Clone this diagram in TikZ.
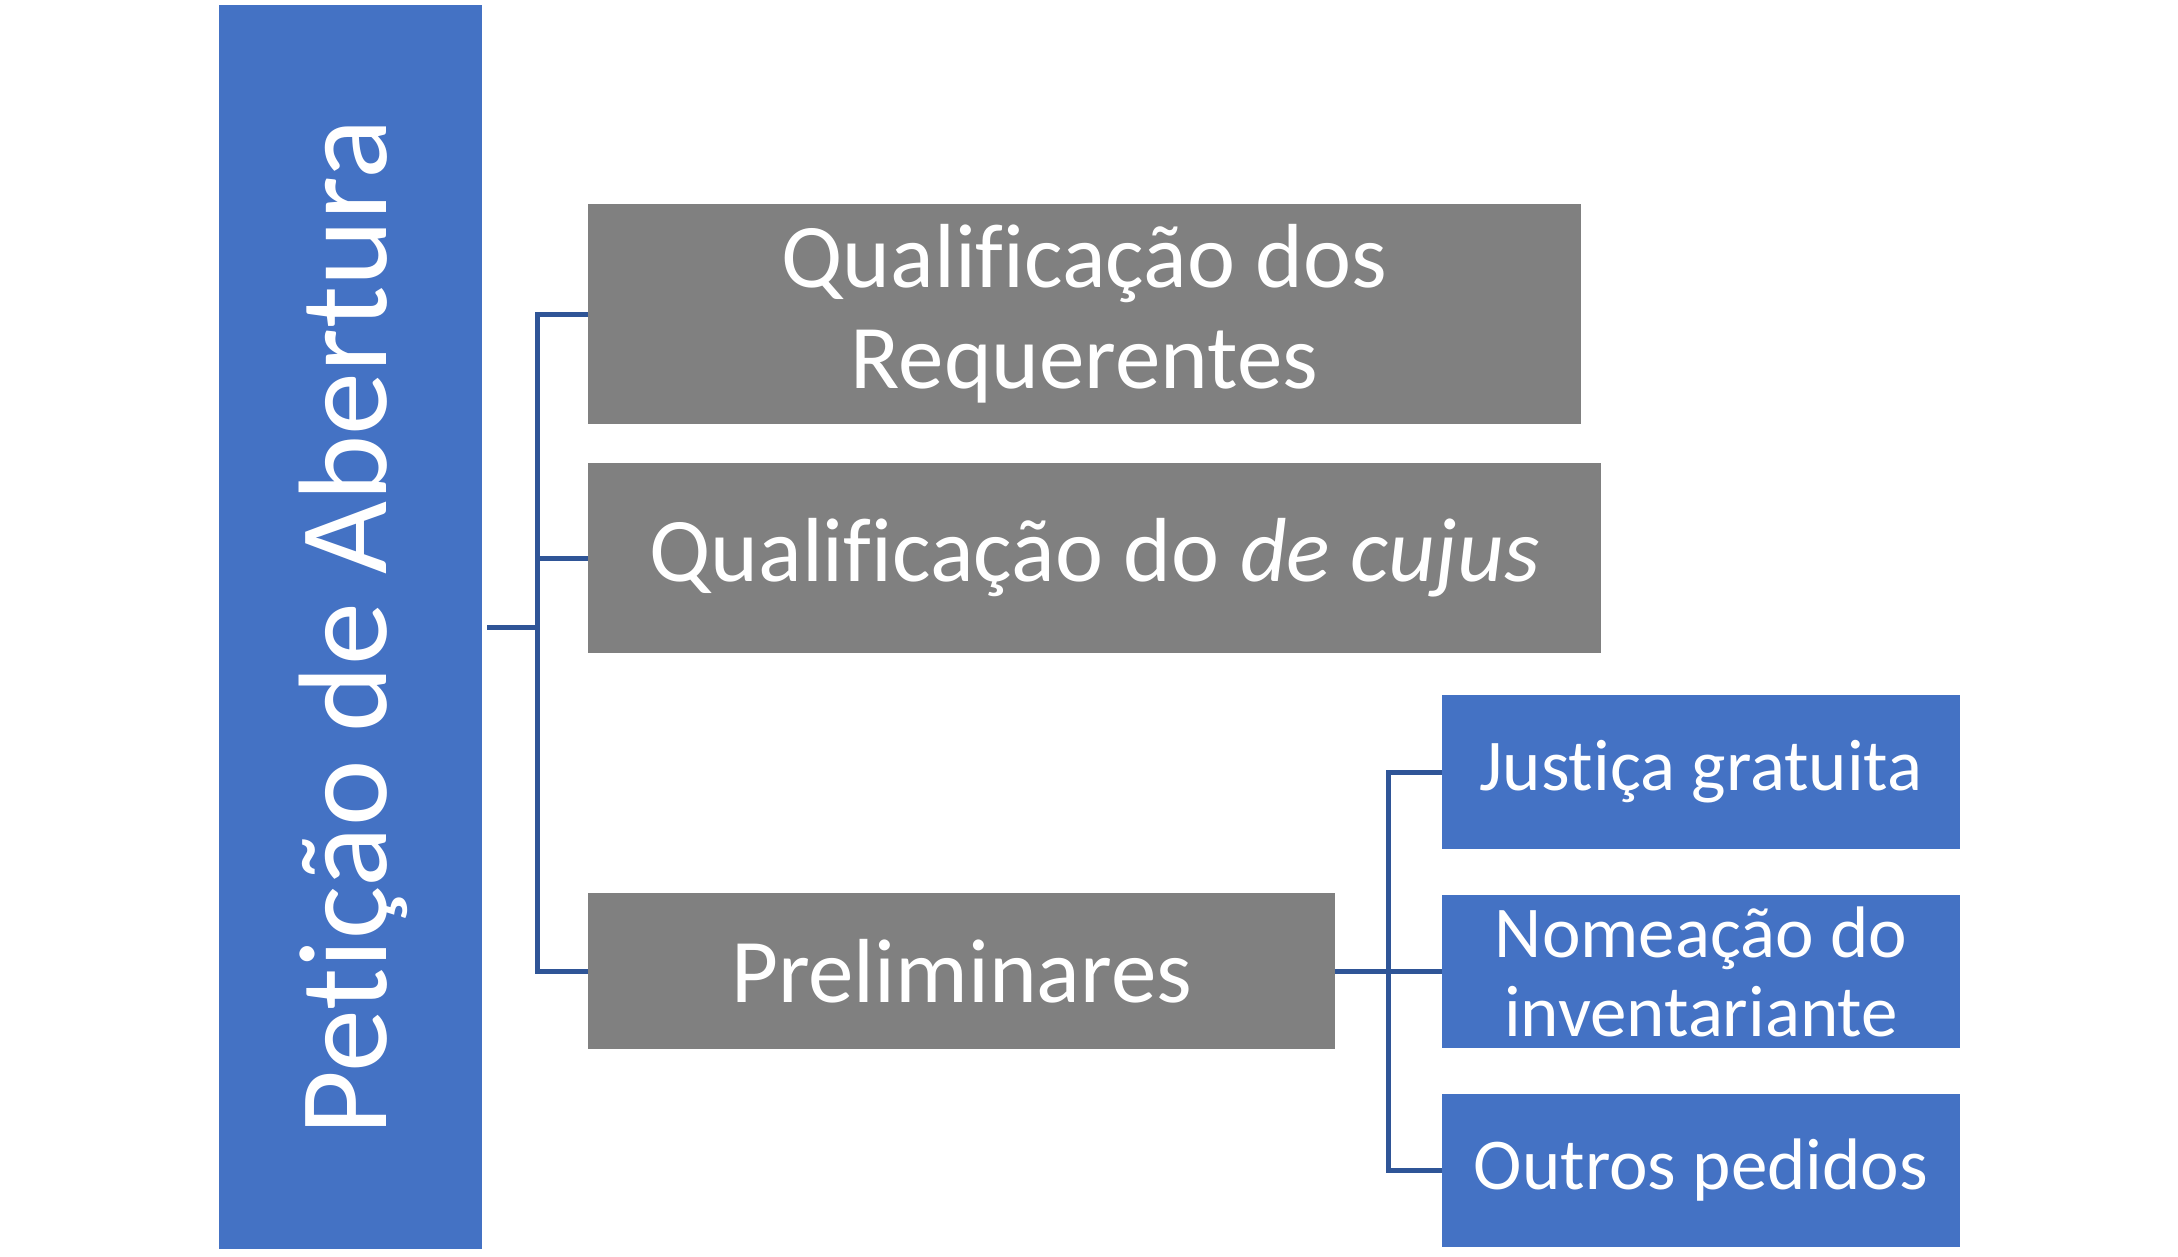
\documentclass[tikz,border=0pt]{standalone}
\usepackage{fontspec}
\setmainfont{Carlito}[Ligatures={NoCommon}]
\definecolor{boxblue}{HTML}{4472C4}
\definecolor{boxgray}{HTML}{808080}
\definecolor{linkblue}{HTML}{2F5597}
\begin{document}
\begin{tikzpicture}[x=1pt,y=-1pt,
  boxbase/.style={inner sep=0pt, outer sep=0pt, text=white, align=center},
  bluebox/.style={boxbase, fill=boxblue},
  graybox/.style={boxbase, fill=boxgray},
  bigtext/.style={font=\fontsize{91}{101}\selectfont},
  smalltext/.style={font=\fontsize{73}{79}\selectfont},
  link/.style={draw=linkblue, line width=5pt}]
\fill[white] (0,0) rectangle (2178,1257);
\useasboundingbox (0,0) rectangle (2178,1257);

\node[bluebox, minimum width=263pt, minimum height=1244pt] (root) at (350.5,627) {};
\node[text=white, rotate=90, inner sep=0pt, font=\fontsize{126}{150}\selectfont] (roottext) at (353,627) {Petição de Abertura};

\node[graybox, bigtext, minimum width=993pt, minimum height=220pt] (q1) at (1084.5,314) {Qualificação dos\\Requerentes};
\node[graybox, bigtext, minimum width=1013pt, minimum height=190pt] (q2) at (1094.5,558) {Qualificação do \textit{de cujus}};
\node[graybox, bigtext, minimum width=747pt, minimum height=156pt] (pre) at (961.5,971) {Preliminares};

\node[bluebox, smalltext, minimum width=518pt, minimum height=154pt] (jus) at (1701,772) {Justiça gratuita};
\node[bluebox, smalltext, minimum width=518pt, minimum height=153pt] (nom) at (1701,971.5) {Nomeação do\\inventariante};
\node[bluebox, smalltext, minimum width=518pt, minimum height=153pt] (out) at (1701,1170.5) {Outros pedidos};

\coordinate (bus1) at (537,627);
\coordinate (bus2) at (1388,971);

\draw[link] ([xshift=5pt]root.east) -- (bus1);
\draw[link] (bus1) |- (q1.west);
\draw[link] (bus1) |- (q2.west);
\draw[link] (bus1) |- (pre.west);

\draw[link] (pre.east) -- (bus2);
\draw[link] (bus2) |- (jus.west);
\draw[link] (bus2) |- (nom.west);
\draw[link] (bus2) |- (out.west);
\end{tikzpicture}
\end{document}
